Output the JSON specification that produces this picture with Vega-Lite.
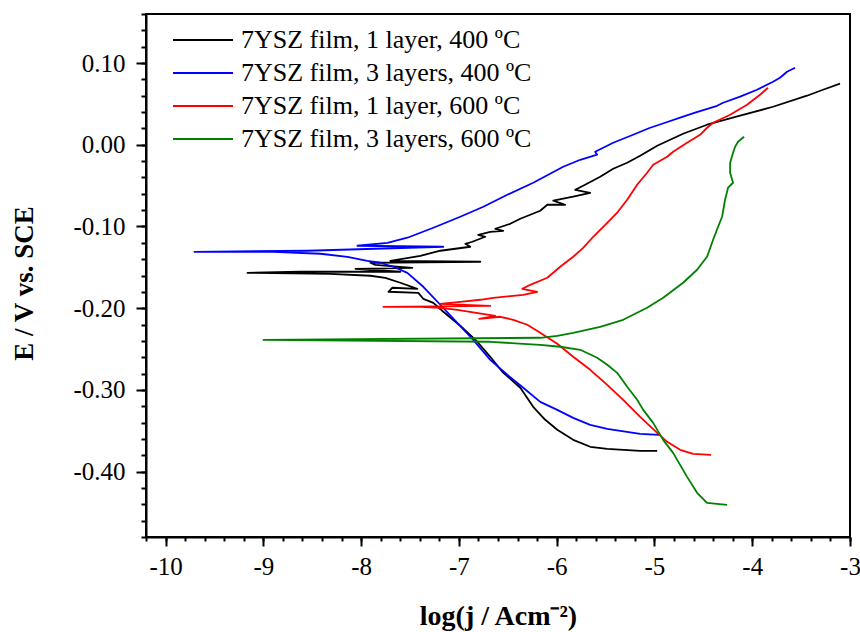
{
  "$schema": "https://vega.github.io/schema/vega-lite/v6.json",
  "width": 704,
  "height": 523,
  "autosize": {"type": "none"},
  "padding": {"left": 146, "top": 14, "right": 10, "bottom": 95},
  "background": "white",
  "config": {
    "view": {"stroke": "black", "strokeWidth": 2},
    "font": "Liberation Serif",
    "axis": {"labelFont": "Liberation Serif", "titleFont": "Liberation Serif"},
    "legend": {"labelFont": "Liberation Serif"}
  },
  "datasets": {
    "curves": [
      {"s": "7YSZ film, 1 layer, 400 ºC", "i": 1, "x": -4.972, "y": -0.3745},
      {"s": "7YSZ film, 1 layer, 400 ºC", "i": 2, "x": -5.146, "y": -0.3745},
      {"s": "7YSZ film, 1 layer, 400 ºC", "i": 3, "x": -5.483, "y": -0.3721},
      {"s": "7YSZ film, 1 layer, 400 ºC", "i": 4, "x": -5.657, "y": -0.3696},
      {"s": "7YSZ film, 1 layer, 400 ºC", "i": 5, "x": -5.831, "y": -0.3611},
      {"s": "7YSZ film, 1 layer, 400 ºC", "i": 6, "x": -5.994, "y": -0.3488},
      {"s": "7YSZ film, 1 layer, 400 ºC", "i": 7, "x": -6.117, "y": -0.3366},
      {"s": "7YSZ film, 1 layer, 400 ºC", "i": 8, "x": -6.240, "y": -0.3207},
      {"s": "7YSZ film, 1 layer, 400 ºC", "i": 9, "x": -6.372, "y": -0.2974},
      {"s": "7YSZ film, 1 layer, 400 ºC", "i": 10, "x": -6.556, "y": -0.2778},
      {"s": "7YSZ film, 1 layer, 400 ºC", "i": 11, "x": -6.679, "y": -0.2595},
      {"s": "7YSZ film, 1 layer, 400 ºC", "i": 12, "x": -6.812, "y": -0.2411},
      {"s": "7YSZ film, 1 layer, 400 ºC", "i": 13, "x": -6.986, "y": -0.2215},
      {"s": "7YSZ film, 1 layer, 400 ºC", "i": 14, "x": -7.159, "y": -0.2044},
      {"s": "7YSZ film, 1 layer, 400 ºC", "i": 15, "x": -7.261, "y": -0.1934},
      {"s": "7YSZ film, 1 layer, 400 ºC", "i": 16, "x": -7.364, "y": -0.1885},
      {"s": "7YSZ film, 1 layer, 400 ºC", "i": 17, "x": -7.415, "y": -0.1812},
      {"s": "7YSZ film, 1 layer, 400 ºC", "i": 18, "x": -7.721, "y": -0.1799},
      {"s": "7YSZ film, 1 layer, 400 ºC", "i": 19, "x": -7.680, "y": -0.1750},
      {"s": "7YSZ film, 1 layer, 400 ºC", "i": 20, "x": -7.425, "y": -0.1763},
      {"s": "7YSZ film, 1 layer, 400 ºC", "i": 21, "x": -7.599, "y": -0.1689},
      {"s": "7YSZ film, 1 layer, 400 ºC", "i": 22, "x": -7.752, "y": -0.1628},
      {"s": "7YSZ film, 1 layer, 400 ºC", "i": 23, "x": -7.905, "y": -0.1603},
      {"s": "7YSZ film, 1 layer, 400 ºC", "i": 24, "x": -8.314, "y": -0.1579},
      {"s": "7YSZ film, 1 layer, 400 ºC", "i": 25, "x": -9.162, "y": -0.1567},
      {"s": "7YSZ film, 1 layer, 400 ºC", "i": 26, "x": -8.620, "y": -0.1554},
      {"s": "7YSZ film, 1 layer, 400 ºC", "i": 27, "x": -7.599, "y": -0.1554},
      {"s": "7YSZ film, 1 layer, 400 ºC", "i": 28, "x": -8.058, "y": -0.1518},
      {"s": "7YSZ film, 1 layer, 400 ºC", "i": 29, "x": -7.476, "y": -0.1506},
      {"s": "7YSZ film, 1 layer, 400 ºC", "i": 30, "x": -7.854, "y": -0.1469},
      {"s": "7YSZ film, 1 layer, 400 ºC", "i": 31, "x": -7.905, "y": -0.1444},
      {"s": "7YSZ film, 1 layer, 400 ºC", "i": 32, "x": -6.781, "y": -0.1432},
      {"s": "7YSZ film, 1 layer, 400 ºC", "i": 33, "x": -7.701, "y": -0.1420},
      {"s": "7YSZ film, 1 layer, 400 ºC", "i": 34, "x": -7.394, "y": -0.1359},
      {"s": "7YSZ film, 1 layer, 400 ºC", "i": 35, "x": -7.190, "y": -0.1297},
      {"s": "7YSZ film, 1 layer, 400 ºC", "i": 36, "x": -6.883, "y": -0.1248},
      {"s": "7YSZ film, 1 layer, 400 ºC", "i": 37, "x": -6.934, "y": -0.1212},
      {"s": "7YSZ film, 1 layer, 400 ºC", "i": 38, "x": -6.863, "y": -0.1187},
      {"s": "7YSZ film, 1 layer, 400 ºC", "i": 39, "x": -6.730, "y": -0.1126},
      {"s": "7YSZ film, 1 layer, 400 ºC", "i": 40, "x": -6.802, "y": -0.1102},
      {"s": "7YSZ film, 1 layer, 400 ºC", "i": 41, "x": -6.679, "y": -0.1065},
      {"s": "7YSZ film, 1 layer, 400 ºC", "i": 42, "x": -6.546, "y": -0.1053},
      {"s": "7YSZ film, 1 layer, 400 ºC", "i": 43, "x": -6.628, "y": -0.1028},
      {"s": "7YSZ film, 1 layer, 400 ºC", "i": 44, "x": -6.475, "y": -0.0967},
      {"s": "7YSZ film, 1 layer, 400 ºC", "i": 45, "x": -6.372, "y": -0.0906},
      {"s": "7YSZ film, 1 layer, 400 ºC", "i": 46, "x": -6.168, "y": -0.0808},
      {"s": "7YSZ film, 1 layer, 400 ºC", "i": 47, "x": -6.096, "y": -0.0734},
      {"s": "7YSZ film, 1 layer, 400 ºC", "i": 48, "x": -5.913, "y": -0.0734},
      {"s": "7YSZ film, 1 layer, 400 ºC", "i": 49, "x": -6.035, "y": -0.0685},
      {"s": "7YSZ film, 1 layer, 400 ºC", "i": 50, "x": -5.831, "y": -0.0636},
      {"s": "7YSZ film, 1 layer, 400 ºC", "i": 51, "x": -5.657, "y": -0.0588},
      {"s": "7YSZ film, 1 layer, 400 ºC", "i": 52, "x": -5.810, "y": -0.0551},
      {"s": "7YSZ film, 1 layer, 400 ºC", "i": 53, "x": -5.729, "y": -0.0502},
      {"s": "7YSZ film, 1 layer, 400 ºC", "i": 54, "x": -5.555, "y": -0.0392},
      {"s": "7YSZ film, 1 layer, 400 ºC", "i": 55, "x": -5.422, "y": -0.0294},
      {"s": "7YSZ film, 1 layer, 400 ºC", "i": 56, "x": -5.279, "y": -0.0220},
      {"s": "7YSZ film, 1 layer, 400 ºC", "i": 57, "x": -5.146, "y": -0.0135},
      {"s": "7YSZ film, 1 layer, 400 ºC", "i": 58, "x": -4.972, "y": -0.0012},
      {"s": "7YSZ film, 1 layer, 400 ºC", "i": 59, "x": -4.707, "y": 0.0135},
      {"s": "7YSZ film, 1 layer, 400 ºC", "i": 60, "x": -4.462, "y": 0.0245},
      {"s": "7YSZ film, 1 layer, 400 ºC", "i": 61, "x": -4.124, "y": 0.0355},
      {"s": "7YSZ film, 1 layer, 400 ºC", "i": 62, "x": -3.787, "y": 0.0465},
      {"s": "7YSZ film, 1 layer, 400 ºC", "i": 63, "x": -3.440, "y": 0.0600},
      {"s": "7YSZ film, 1 layer, 400 ºC", "i": 64, "x": -3.276, "y": 0.0673},
      {"s": "7YSZ film, 1 layer, 400 ºC", "i": 65, "x": -3.102, "y": 0.0747},

      {"s": "7YSZ film, 3 layers, 400 ºC", "i": 1, "x": -4.952, "y": -0.3550},
      {"s": "7YSZ film, 3 layers, 400 ºC", "i": 2, "x": -5.146, "y": -0.3537},
      {"s": "7YSZ film, 3 layers, 400 ºC", "i": 3, "x": -5.483, "y": -0.3476},
      {"s": "7YSZ film, 3 layers, 400 ºC", "i": 4, "x": -5.657, "y": -0.3427},
      {"s": "7YSZ film, 3 layers, 400 ºC", "i": 5, "x": -5.831, "y": -0.3342},
      {"s": "7YSZ film, 3 layers, 400 ºC", "i": 6, "x": -5.994, "y": -0.3244},
      {"s": "7YSZ film, 3 layers, 400 ºC", "i": 7, "x": -6.168, "y": -0.3146},
      {"s": "7YSZ film, 3 layers, 400 ºC", "i": 8, "x": -6.342, "y": -0.2974},
      {"s": "7YSZ film, 3 layers, 400 ºC", "i": 9, "x": -6.505, "y": -0.2815},
      {"s": "7YSZ film, 3 layers, 400 ºC", "i": 10, "x": -6.679, "y": -0.2632},
      {"s": "7YSZ film, 3 layers, 400 ºC", "i": 11, "x": -6.853, "y": -0.2387},
      {"s": "7YSZ film, 3 layers, 400 ºC", "i": 12, "x": -7.016, "y": -0.2179},
      {"s": "7YSZ film, 3 layers, 400 ºC", "i": 13, "x": -7.190, "y": -0.1958},
      {"s": "7YSZ film, 3 layers, 400 ºC", "i": 14, "x": -7.364, "y": -0.1738},
      {"s": "7YSZ film, 3 layers, 400 ºC", "i": 15, "x": -7.527, "y": -0.1567},
      {"s": "7YSZ film, 3 layers, 400 ºC", "i": 16, "x": -7.670, "y": -0.1493},
      {"s": "7YSZ film, 3 layers, 400 ºC", "i": 17, "x": -7.803, "y": -0.1444},
      {"s": "7YSZ film, 3 layers, 400 ºC", "i": 18, "x": -7.936, "y": -0.1420},
      {"s": "7YSZ film, 3 layers, 400 ºC", "i": 19, "x": -8.140, "y": -0.1371},
      {"s": "7YSZ film, 3 layers, 400 ºC", "i": 20, "x": -8.416, "y": -0.1334},
      {"s": "7YSZ film, 3 layers, 400 ºC", "i": 21, "x": -8.896, "y": -0.1310},
      {"s": "7YSZ film, 3 layers, 400 ºC", "i": 22, "x": -9.704, "y": -0.1310},
      {"s": "7YSZ film, 3 layers, 400 ºC", "i": 23, "x": -8.549, "y": -0.1297},
      {"s": "7YSZ film, 3 layers, 400 ºC", "i": 24, "x": -7.159, "y": -0.1248},
      {"s": "7YSZ film, 3 layers, 400 ºC", "i": 25, "x": -8.038, "y": -0.1236},
      {"s": "7YSZ film, 3 layers, 400 ºC", "i": 26, "x": -7.731, "y": -0.1200},
      {"s": "7YSZ film, 3 layers, 400 ºC", "i": 27, "x": -7.527, "y": -0.1138},
      {"s": "7YSZ film, 3 layers, 400 ºC", "i": 28, "x": -7.261, "y": -0.1016},
      {"s": "7YSZ film, 3 layers, 400 ºC", "i": 29, "x": -6.986, "y": -0.0881},
      {"s": "7YSZ film, 3 layers, 400 ºC", "i": 30, "x": -6.750, "y": -0.0759},
      {"s": "7YSZ film, 3 layers, 400 ºC", "i": 31, "x": -6.505, "y": -0.0612},
      {"s": "7YSZ film, 3 layers, 400 ºC", "i": 32, "x": -6.240, "y": -0.0465},
      {"s": "7YSZ film, 3 layers, 400 ºC", "i": 33, "x": -5.933, "y": -0.0269},
      {"s": "7YSZ film, 3 layers, 400 ºC", "i": 34, "x": -5.759, "y": -0.0184},
      {"s": "7YSZ film, 3 layers, 400 ºC", "i": 35, "x": -5.586, "y": -0.0122},
      {"s": "7YSZ film, 3 layers, 400 ºC", "i": 36, "x": -5.606, "y": -0.0086},
      {"s": "7YSZ film, 3 layers, 400 ºC", "i": 37, "x": -5.422, "y": 0.0024},
      {"s": "7YSZ film, 3 layers, 400 ºC", "i": 38, "x": -5.218, "y": 0.0122},
      {"s": "7YSZ film, 3 layers, 400 ºC", "i": 39, "x": -5.044, "y": 0.0208},
      {"s": "7YSZ film, 3 layers, 400 ºC", "i": 40, "x": -4.891, "y": 0.0269},
      {"s": "7YSZ film, 3 layers, 400 ºC", "i": 41, "x": -4.707, "y": 0.0343},
      {"s": "7YSZ film, 3 layers, 400 ºC", "i": 42, "x": -4.584, "y": 0.0392},
      {"s": "7YSZ film, 3 layers, 400 ºC", "i": 43, "x": -4.359, "y": 0.0477},
      {"s": "7YSZ film, 3 layers, 400 ºC", "i": 44, "x": -4.298, "y": 0.0514},
      {"s": "7YSZ film, 3 layers, 400 ºC", "i": 45, "x": -4.124, "y": 0.0588},
      {"s": "7YSZ film, 3 layers, 400 ºC", "i": 46, "x": -3.951, "y": 0.0673},
      {"s": "7YSZ film, 3 layers, 400 ºC", "i": 47, "x": -3.787, "y": 0.0771},
      {"s": "7YSZ film, 3 layers, 400 ºC", "i": 48, "x": -3.716, "y": 0.0820},
      {"s": "7YSZ film, 3 layers, 400 ºC", "i": 49, "x": -3.644, "y": 0.0894},
      {"s": "7YSZ film, 3 layers, 400 ºC", "i": 50, "x": -3.562, "y": 0.0942},

      {"s": "7YSZ film, 1 layer, 600 ºC", "i": 1, "x": -4.421, "y": -0.3794},
      {"s": "7YSZ film, 1 layer, 600 ºC", "i": 2, "x": -4.605, "y": -0.3782},
      {"s": "7YSZ film, 1 layer, 600 ºC", "i": 3, "x": -4.737, "y": -0.3733},
      {"s": "7YSZ film, 1 layer, 600 ºC", "i": 4, "x": -4.870, "y": -0.3635},
      {"s": "7YSZ film, 1 layer, 600 ºC", "i": 5, "x": -4.972, "y": -0.3525},
      {"s": "7YSZ film, 1 layer, 600 ºC", "i": 6, "x": -5.146, "y": -0.3329},
      {"s": "7YSZ film, 1 layer, 600 ºC", "i": 7, "x": -5.320, "y": -0.3121},
      {"s": "7YSZ film, 1 layer, 600 ºC", "i": 8, "x": -5.483, "y": -0.2938},
      {"s": "7YSZ film, 1 layer, 600 ºC", "i": 9, "x": -5.657, "y": -0.2754},
      {"s": "7YSZ film, 1 layer, 600 ºC", "i": 10, "x": -5.831, "y": -0.2595},
      {"s": "7YSZ film, 1 layer, 600 ºC", "i": 11, "x": -5.994, "y": -0.2436},
      {"s": "7YSZ film, 1 layer, 600 ºC", "i": 12, "x": -6.168, "y": -0.2301},
      {"s": "7YSZ film, 1 layer, 600 ºC", "i": 13, "x": -6.301, "y": -0.2203},
      {"s": "7YSZ film, 1 layer, 600 ºC", "i": 14, "x": -6.444, "y": -0.2142},
      {"s": "7YSZ film, 1 layer, 600 ºC", "i": 15, "x": -6.577, "y": -0.2105},
      {"s": "7YSZ film, 1 layer, 600 ºC", "i": 16, "x": -6.792, "y": -0.2130},
      {"s": "7YSZ film, 1 layer, 600 ºC", "i": 17, "x": -6.628, "y": -0.2093},
      {"s": "7YSZ film, 1 layer, 600 ºC", "i": 18, "x": -7.016, "y": -0.2020},
      {"s": "7YSZ film, 1 layer, 600 ºC", "i": 19, "x": -7.190, "y": -0.1995},
      {"s": "7YSZ film, 1 layer, 600 ºC", "i": 20, "x": -7.394, "y": -0.1983},
      {"s": "7YSZ film, 1 layer, 600 ºC", "i": 21, "x": -7.772, "y": -0.1983},
      {"s": "7YSZ film, 1 layer, 600 ºC", "i": 22, "x": -6.679, "y": -0.1971},
      {"s": "7YSZ film, 1 layer, 600 ºC", "i": 23, "x": -7.190, "y": -0.1946},
      {"s": "7YSZ film, 1 layer, 600 ºC", "i": 24, "x": -6.986, "y": -0.1922},
      {"s": "7YSZ film, 1 layer, 600 ºC", "i": 25, "x": -6.781, "y": -0.1897},
      {"s": "7YSZ film, 1 layer, 600 ºC", "i": 26, "x": -6.648, "y": -0.1873},
      {"s": "7YSZ film, 1 layer, 600 ºC", "i": 27, "x": -6.342, "y": -0.1836},
      {"s": "7YSZ film, 1 layer, 600 ºC", "i": 28, "x": -6.199, "y": -0.1799},
      {"s": "7YSZ film, 1 layer, 600 ºC", "i": 29, "x": -6.352, "y": -0.1763},
      {"s": "7YSZ film, 1 layer, 600 ºC", "i": 30, "x": -6.270, "y": -0.1714},
      {"s": "7YSZ film, 1 layer, 600 ºC", "i": 31, "x": -6.096, "y": -0.1628},
      {"s": "7YSZ film, 1 layer, 600 ºC", "i": 32, "x": -5.964, "y": -0.1493},
      {"s": "7YSZ film, 1 layer, 600 ºC", "i": 33, "x": -5.831, "y": -0.1371},
      {"s": "7YSZ film, 1 layer, 600 ºC", "i": 34, "x": -5.729, "y": -0.1261},
      {"s": "7YSZ film, 1 layer, 600 ºC", "i": 35, "x": -5.626, "y": -0.1126},
      {"s": "7YSZ film, 1 layer, 600 ºC", "i": 36, "x": -5.483, "y": -0.0955},
      {"s": "7YSZ film, 1 layer, 600 ºC", "i": 37, "x": -5.381, "y": -0.0832},
      {"s": "7YSZ film, 1 layer, 600 ºC", "i": 38, "x": -5.279, "y": -0.0673},
      {"s": "7YSZ film, 1 layer, 600 ºC", "i": 39, "x": -5.177, "y": -0.0490},
      {"s": "7YSZ film, 1 layer, 600 ºC", "i": 40, "x": -5.075, "y": -0.0343},
      {"s": "7YSZ film, 1 layer, 600 ºC", "i": 41, "x": -5.013, "y": -0.0245},
      {"s": "7YSZ film, 1 layer, 600 ºC", "i": 42, "x": -4.870, "y": -0.0147},
      {"s": "7YSZ film, 1 layer, 600 ºC", "i": 43, "x": -4.809, "y": -0.0086},
      {"s": "7YSZ film, 1 layer, 600 ºC", "i": 44, "x": -4.666, "y": 0.0024},
      {"s": "7YSZ film, 1 layer, 600 ºC", "i": 45, "x": -4.533, "y": 0.0122},
      {"s": "7YSZ film, 1 layer, 600 ºC", "i": 46, "x": -4.462, "y": 0.0208},
      {"s": "7YSZ film, 1 layer, 600 ºC", "i": 47, "x": -4.400, "y": 0.0269},
      {"s": "7YSZ film, 1 layer, 600 ºC", "i": 48, "x": -4.226, "y": 0.0367},
      {"s": "7YSZ film, 1 layer, 600 ºC", "i": 49, "x": -4.053, "y": 0.0490},
      {"s": "7YSZ film, 1 layer, 600 ºC", "i": 50, "x": -3.920, "y": 0.0612},
      {"s": "7YSZ film, 1 layer, 600 ºC", "i": 51, "x": -3.838, "y": 0.0698},

      {"s": "7YSZ film, 3 layers, 600 ºC", "i": 1, "x": -4.257, "y": -0.4406},
      {"s": "7YSZ film, 3 layers, 600 ºC", "i": 2, "x": -4.462, "y": -0.4382},
      {"s": "7YSZ film, 3 layers, 600 ºC", "i": 3, "x": -4.564, "y": -0.4259},
      {"s": "7YSZ film, 3 layers, 600 ºC", "i": 4, "x": -4.666, "y": -0.4064},
      {"s": "7YSZ film, 3 layers, 600 ºC", "i": 5, "x": -4.809, "y": -0.3770},
      {"s": "7YSZ film, 3 layers, 600 ºC", "i": 6, "x": -4.911, "y": -0.3611},
      {"s": "7YSZ film, 3 layers, 600 ºC", "i": 7, "x": -5.013, "y": -0.3403},
      {"s": "7YSZ film, 3 layers, 600 ºC", "i": 8, "x": -5.115, "y": -0.3244},
      {"s": "7YSZ film, 3 layers, 600 ºC", "i": 9, "x": -5.177, "y": -0.3121},
      {"s": "7YSZ film, 3 layers, 600 ºC", "i": 10, "x": -5.279, "y": -0.2962},
      {"s": "7YSZ film, 3 layers, 600 ºC", "i": 11, "x": -5.381, "y": -0.2791},
      {"s": "7YSZ film, 3 layers, 600 ºC", "i": 12, "x": -5.483, "y": -0.2693},
      {"s": "7YSZ film, 3 layers, 600 ºC", "i": 13, "x": -5.586, "y": -0.2607},
      {"s": "7YSZ film, 3 layers, 600 ºC", "i": 14, "x": -5.759, "y": -0.2509},
      {"s": "7YSZ film, 3 layers, 600 ºC", "i": 15, "x": -5.964, "y": -0.2472},
      {"s": "7YSZ film, 3 layers, 600 ºC", "i": 16, "x": -6.168, "y": -0.2448},
      {"s": "7YSZ film, 3 layers, 600 ºC", "i": 17, "x": -6.342, "y": -0.2436},
      {"s": "7YSZ film, 3 layers, 600 ºC", "i": 18, "x": -6.679, "y": -0.2411},
      {"s": "7YSZ film, 3 layers, 600 ºC", "i": 19, "x": -8.999, "y": -0.2387},
      {"s": "7YSZ film, 3 layers, 600 ºC", "i": 20, "x": -6.168, "y": -0.2362},
      {"s": "7YSZ film, 3 layers, 600 ºC", "i": 21, "x": -5.994, "y": -0.2338},
      {"s": "7YSZ film, 3 layers, 600 ºC", "i": 22, "x": -5.831, "y": -0.2301},
      {"s": "7YSZ film, 3 layers, 600 ºC", "i": 23, "x": -5.555, "y": -0.2228},
      {"s": "7YSZ film, 3 layers, 600 ºC", "i": 24, "x": -5.320, "y": -0.2142},
      {"s": "7YSZ film, 3 layers, 600 ºC", "i": 25, "x": -5.075, "y": -0.1995},
      {"s": "7YSZ film, 3 layers, 600 ºC", "i": 26, "x": -4.911, "y": -0.1873},
      {"s": "7YSZ film, 3 layers, 600 ºC", "i": 27, "x": -4.707, "y": -0.1689},
      {"s": "7YSZ film, 3 layers, 600 ºC", "i": 28, "x": -4.564, "y": -0.1530},
      {"s": "7YSZ film, 3 layers, 600 ºC", "i": 29, "x": -4.462, "y": -0.1371},
      {"s": "7YSZ film, 3 layers, 600 ºC", "i": 30, "x": -4.400, "y": -0.1163},
      {"s": "7YSZ film, 3 layers, 600 ºC", "i": 31, "x": -4.349, "y": -0.1004},
      {"s": "7YSZ film, 3 layers, 600 ºC", "i": 32, "x": -4.308, "y": -0.0881},
      {"s": "7YSZ film, 3 layers, 600 ºC", "i": 33, "x": -4.278, "y": -0.0673},
      {"s": "7YSZ film, 3 layers, 600 ºC", "i": 34, "x": -4.247, "y": -0.0526},
      {"s": "7YSZ film, 3 layers, 600 ºC", "i": 35, "x": -4.196, "y": -0.0465},
      {"s": "7YSZ film, 3 layers, 600 ºC", "i": 36, "x": -4.226, "y": -0.0343},
      {"s": "7YSZ film, 3 layers, 600 ºC", "i": 37, "x": -4.226, "y": -0.0220},
      {"s": "7YSZ film, 3 layers, 600 ºC", "i": 38, "x": -4.196, "y": -0.0098},
      {"s": "7YSZ film, 3 layers, 600 ºC", "i": 39, "x": -4.175, "y": -0.0024},
      {"s": "7YSZ film, 3 layers, 600 ºC", "i": 40, "x": -4.145, "y": 0.0037},
      {"s": "7YSZ film, 3 layers, 600 ºC", "i": 41, "x": -4.083, "y": 0.0098}
    ]
  },
  "data": {"name": "curves"},
  "resolve": {"axis": {"x": "independent", "y": "independent"}},
  "layer": [
    {
      "mark": {"type": "line", "opacity": 0, "strokeWidth": 1},
      "encoding": {
        "order": {"field": "i", "type": "quantitative"},
        "detail": {"field": "s"},
        "x": {
          "field": "x", "type": "quantitative",
          "scale": {"domain": [-10.2, -3], "nice": false, "zero": false},
          "axis": {
            "orient": "bottom", "title": null, "labels": false, "grid": false, "domain": false,
            "values": [-10.2,-10.0,-9.8,-9.6,-9.4,-9.2,-9.0,-8.8,-8.6,-8.4,-8.2,-8.0,-7.8,-7.6,-7.4,-7.2,-7.0,-6.8,-6.6,-6.4,-6.2,-6.0,-5.8,-5.6,-5.4,-5.2,-5.0,-4.8,-4.6,-4.4,-4.2,-4.0,-3.8,-3.6,-3.4,-3.2,-3.0],
            "tickSize": 4, "tickWidth": 2, "tickColor": "black"
          }
        },
        "y": {
          "field": "y", "type": "quantitative",
          "scale": {"domain": [-0.48, 0.16], "nice": false, "zero": false},
          "axis": {
            "orient": "left", "title": null, "labels": false, "grid": false, "domain": false,
            "values": [-0.48,-0.46,-0.44,-0.42,-0.40,-0.38,-0.36,-0.34,-0.32,-0.30,-0.28,-0.26,-0.24,-0.22,-0.20,-0.18,-0.16,-0.14,-0.12,-0.10,-0.08,-0.06,-0.04,-0.02,0,0.02,0.04,0.06,0.08,0.10,0.12,0.14,0.16],
            "tickSize": 5, "tickWidth": 2, "tickColor": "black"
          }
        }
      }
    },
    {
      "mark": {"type": "line", "strokeWidth": 1.8, "strokeJoin": "round", "clip": true},
      "encoding": {
        "order": {"field": "i", "type": "quantitative"},
        "x": {
          "field": "x", "type": "quantitative",
          "scale": {"domain": [-10.2, -3], "nice": false, "zero": false},
          "axis": {
            "orient": "bottom",
            "title": "log(j / Acm⁻²)",
            "values": [-10, -9, -8, -7, -6, -5, -4, -3],
            "format": "d",
            "labelExpr": "replace(datum.label, '−', '-')",
            "grid": false,
            "domain": true, "domainColor": "black", "domainWidth": 2,
            "tickSize": 9, "tickWidth": 2, "tickColor": "black",
            "labelFont": "Liberation Serif", "labelFontSize": 25, "labelColor": "black",
            "labelPadding": 8, "labelFlush": false,
            "titleFont": "Liberation Serif", "titleFontSize": 28, "titleFontWeight": "bold",
            "titleColor": "black", "titlePadding": 23
          }
        },
        "y": {
          "field": "y", "type": "quantitative",
          "scale": {"domain": [-0.48, 0.16], "nice": false, "zero": false},
          "axis": {
            "orient": "left",
            "title": "E / V vs. SCE",
            "values": [-0.4, -0.3, -0.2, -0.1, 0, 0.1],
            "format": ".2f",
            "labelExpr": "replace(datum.label, '−', '-')",
            "grid": false,
            "domain": true, "domainColor": "black", "domainWidth": 2,
            "tickSize": 10, "tickWidth": 2, "tickColor": "black",
            "labelFont": "Liberation Serif", "labelFontSize": 25, "labelColor": "black",
            "labelPadding": 11, "labelFlush": false,
            "titleFont": "Liberation Serif", "titleFontSize": 27, "titleFontWeight": "bold",
            "titleColor": "black", "titlePadding": 34, "titleY": 269
          }
        },
        "color": {
          "field": "s", "type": "nominal",
          "scale": {
            "domain": ["7YSZ film, 1 layer, 400 ºC", "7YSZ film, 3 layers, 400 ºC", "7YSZ film, 1 layer, 600 ºC", "7YSZ film, 3 layers, 600 ºC"],
            "range": ["#000000", "#0000ff", "#ff0000", "#008000"]
          },
          "legend": {
            "orient": "none", "legendX": 16, "legendY": 13, "title": null,
            "symbolType": "M-1,0H29", "symbolSize": 16, "symbolStrokeWidth": 2,
            "labelFont": "Liberation Serif", "labelFontSize": 26, "labelColor": "black",
            "labelOffset": 53, "rowPadding": 7, "labelLimit": 500
          }
        }
      }
    }
  ]
}
